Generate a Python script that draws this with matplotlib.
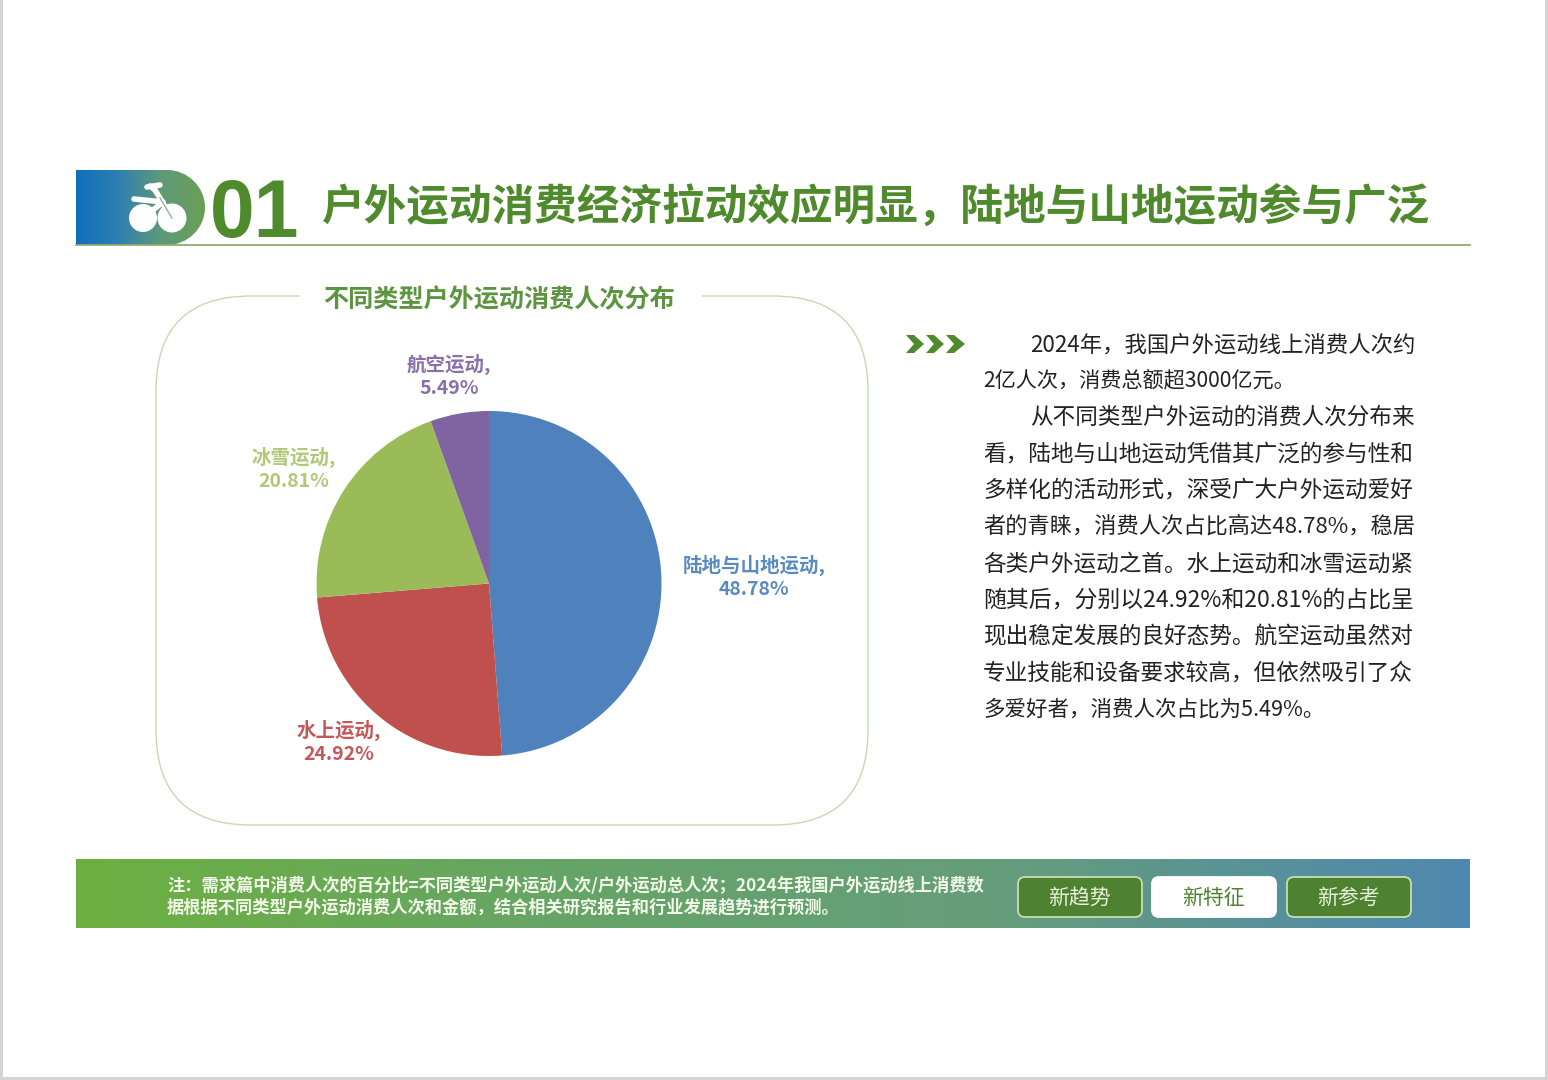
import numpy as np
import matplotlib
matplotlib.use("Agg")
import matplotlib.pyplot as plt
from matplotlib.colors import LinearSegmentedColormap
from matplotlib.patches import FancyBboxPatch, Rectangle, Circle, Polygon, PathPatch
from matplotlib.path import Path

plt.rcParams['font.family'] = ['Noto Sans CJK SC', 'DejaVu Sans']

W, H = 1548, 1080

# chart data
categories = ['陆地与山地运动', '水上运动', '冰雪运动', '航空运动']
shares = [48.78, 24.92, 20.81, 5.49]
pie_colors = ['#4f81bd', '#c0504d', '#9bbb59', '#8064a2']
label_colors = ['#5b8ac0', '#c4575a', '#b0c878', '#8a70aa']
label_x = [754, 339, 294, 449]
label_y = [577, 742, 469, 376]

title = '户外运动消费经济拉动效应明显，陆地与山地运动参与广泛'
pie_title = '不同类型户外运动消费人次分布'
body_lines = [
    '2024年，我国户外运动线上消费人次约',
    '2亿人次，消费总额超3000亿元。',
    '从不同类型户外运动的消费人次分布来',
    '看，陆地与山地运动凭借其广泛的参与性和',
    '多样化的活动形式，深受广大户外运动爱好',
    '者的青睐，消费人次占比高达48.78%，稳居',
    '各类户外运动之首。水上运动和冰雪运动紧',
    '随其后，分别以24.92%和20.81%的占比呈',
    '现出稳定发展的良好态势。航空运动虽然对',
    '专业技能和设备要求较高，但依然吸引了众',
    '多爱好者，消费人次占比为5.49%。',
]
body_left = [1030, 983, 1030, 983, 983, 983, 983, 983, 983, 983, 983]
body_right = [1415, 1296, 1415, 1415, 1415, 1415, 1415, 1415, 1415, 1415, 1325]
body_y = [345, 381, 417, 454, 490, 527, 564, 600, 637, 673, 710]
note_lines = [
    '注：需求篇中消费人次的百分比=不同类型户外运动人次/户外运动总人次；2024年我国户外运动线上消费数',
    '据根据不同类型户外运动消费人次和金额，结合相关研究报告和行业发展趋势进行预测。',
]
note_right = [984, 838]
buttons = ['新趋势', '新特征', '新参考']
button_x = [1018, 1152, 1287]

fig = plt.figure(figsize=(15.48, 10.8), dpi=100, facecolor='white')
ax = fig.add_axes([0, 0, 1, 1])
ax.set_xlim(0, W)
ax.set_ylim(H, 0)
ax.axis('off')


def gradient(x0, x1, y0, y1, colors, clip=None):
    cmap = LinearSegmentedColormap.from_list('g', colors)
    im = ax.imshow(np.linspace(0, 1, 256).reshape(1, -1), cmap=cmap, aspect='auto',
                   extent=(x0, x1, y1, y0), zorder=1)
    if clip is not None:
        im.set_clip_path(clip)
    return im


def fit_text(x, y, s, right, size, **kw):
    # squeeze or grow the font a bit so the line ends where it should
    t = ax.text(x, y, s, fontsize=size, va='center', ha='left', **kw)
    w = t.get_window_extent(fig.canvas.get_renderer()).width
    t.set_fontsize(size * (right - x) / w)
    return t


# grey page edges
ax.add_patch(Rectangle((0, 0), 3, H, fc='#d4d4d4', ec='none'))
ax.add_patch(Rectangle((1545, 0), 3, H, fc='#d4d4d4', ec='none'))
ax.add_patch(Rectangle((0, 1077), W, 3, fc='#d4d4d4', ec='none'))

# header pill, right end is a half circle
k = 37.5 * 0.5523
verts = [(76, 170), (167, 170), (167 + k, 170), (205, 207.5 - k), (205, 207.5),
         (205, 207.5 + k), (167 + k, 245), (167, 245), (76, 245), (76, 170)]
codes = [Path.MOVETO, Path.LINETO, Path.CURVE4, Path.CURVE4, Path.CURVE4,
         Path.CURVE4, Path.CURVE4, Path.CURVE4, Path.LINETO, Path.CLOSEPOLY]
pill = PathPatch(Path(verts, codes), fc='none', ec='none', transform=ax.transData)
ax.add_patch(pill)
gradient(76, 205, 170, 245, ['#0f6fbd', '#2f80b0', '#5f9a78', '#6b9f55'], clip=pill)

# bike icon
ax.add_patch(Circle((143, 218), 14, fc='white', ec='none', zorder=3))
ax.add_patch(Circle((172, 218), 14.5, fc='white', ec='none', zorder=3))
ax.plot([172, 155, 150], [218, 190, 186], color='white', lw=4, zorder=4, solid_capstyle='round')
ax.plot([143, 163, 134], [218, 202, 199], color='white', lw=4, zorder=4, solid_capstyle='round')
ax.plot([147, 160], [187, 185], color='white', lw=4, zorder=4, solid_capstyle='round')
ax.plot([172, 160], [218, 198], color='#8fb59a', lw=1, zorder=5)

ax.text(255, 216, '01', fontsize=58, fontweight='bold', family='Liberation Sans', color='#4f8a2c',
        ha='center', va='center', zorder=3)
fit_text(322, 207, title, 1430, 29, color='#4f8a2c', fontweight='black')
ax.plot([76, 1470], [245, 245], color='#8fae6e', lw=1.3, zorder=2)

# rounded frame round the pie
ax.add_patch(FancyBboxPatch((156, 296), 712, 529, boxstyle='round,pad=0,rounding_size=95',
                            fc='white', ec='#c8d8b4', lw=1.0, zorder=1))
ax.add_patch(Rectangle((300, 288), 402, 16, fc='white', ec='none', zorder=2))
ax.text(499, 300, pie_title, fontsize=18.1, fontweight='bold', color='#5c9440',
        ha='center', va='center', zorder=3)

# pie
cx, cy, r = 489, 583.5, 172.5
pie_ax = fig.add_axes([(cx - r) / W, 1 - (cy + r) / H, 2 * r / W, 2 * r / H])
pie_ax.pie(shares, colors=pie_colors, startangle=90, counterclock=False, radius=1,
           wedgeprops={'linewidth': 0})
pie_ax.set_xlim(-1, 1)
pie_ax.set_ylim(-1, 1)

for name, val, c, x, y in zip(categories, shares, label_colors, label_x, label_y):
    ax.text(x, y, f'{name},\n{val:.2f}%', color=c, fontsize=14, fontweight='bold',
            ha='center', va='center', linespacing=1.22, zorder=5)

# body text
ax.add_patch(Polygon([(906, 335), (914, 335), (924, 344), (914, 353), (906, 353), (914, 344)], fc='#4f8a2c', ec='none'))
ax.add_patch(Polygon([(926, 335), (934, 335), (944, 344), (934, 353), (926, 353), (934, 344)], fc='#4f8a2c', ec='none'))
ax.add_patch(Polygon([(946, 335), (954, 335), (965, 344), (954, 353), (946, 353), (954, 344)], fc='#4f8a2c', ec='none'))
for s, x, xr, y in zip(body_lines, body_left, body_right, body_y):
    fit_text(x, y, s, xr, 15, color='#222222', fontweight='medium')

# footer
gradient(76, 1470, 859, 928, ['#6db040', '#66a566', '#659d7c', '#4f88b0'])
for s, right, y in zip(note_lines, note_right, [886, 907]):
    t = fit_text(167, y, s, right, 13, color='#f2f8e8', fontweight='bold')
    t.set_zorder(3)
for i, (s, x) in enumerate(zip(buttons, button_x)):
    active = i == 1
    ax.add_patch(FancyBboxPatch((x, 877), 124, 40, boxstyle='round,pad=0,rounding_size=7',
                                fc='white' if active else '#4f8230',
                                ec='white' if active else '#c4dfb0', lw=1.3, zorder=3))
    ax.text(x + 61, 898, s, fontsize=15, color='#4f8230' if active else '#e6f2da',
            ha='center', va='center', zorder=4, fontweight='medium')

fig.savefig('out.png', dpi=100, facecolor='white')
